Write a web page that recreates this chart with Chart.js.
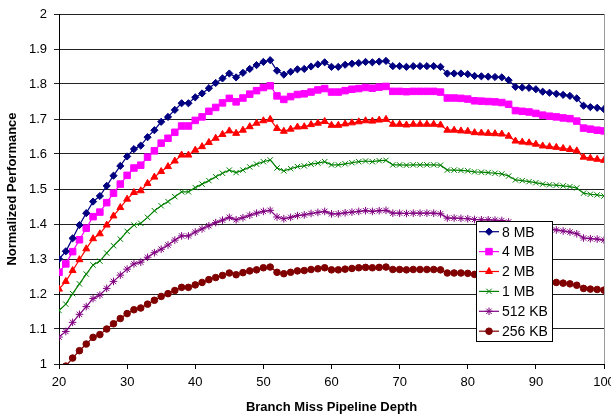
<!DOCTYPE html>
<html>
<head>
<meta charset="utf-8">
<script src="https://cdn.jsdelivr.net/npm/chart.js@4"></script>
<style>
  body { margin: 0; background: #fff; }
  #wrap { width: 611px; height: 416px; }
</style>
</head>
<body>
<div id="wrap"><canvas id="chart" width="611" height="416"></canvas></div>
<script>
// pipeline depth (x axis)
const depth = [
  20, 21, 22, 23, 24, 25, 26, 27, 28, 29,
  30, 31, 32, 33, 34, 35, 36, 37, 38, 39,
  40, 41, 42, 43, 44, 45, 46, 47, 48, 49,
  50, 51, 52, 53, 54, 55, 56, 57, 58, 59,
  60, 61, 62, 63, 64, 65, 66, 67, 68, 69,
  70, 71, 72, 73, 74, 75, 76, 77, 78, 79,
  80, 81, 82, 83, 84, 85, 86, 87, 88, 89,
  90, 91, 92, 93, 94, 95, 96, 97, 98, 99,
  100
];

const perf8MB = [
  1.300, 1.322, 1.359, 1.397, 1.431, 1.464, 1.480, 1.509, 1.538, 1.566,
  1.593, 1.614, 1.624, 1.648, 1.668, 1.692, 1.706, 1.726, 1.745, 1.745,
  1.762, 1.773, 1.788, 1.803, 1.816, 1.830, 1.819, 1.832, 1.843, 1.854,
  1.863, 1.868, 1.838, 1.827, 1.835, 1.842, 1.843, 1.850, 1.856, 1.862,
  1.849, 1.849, 1.855, 1.858, 1.860, 1.863, 1.862, 1.864, 1.866, 1.851,
  1.851, 1.849, 1.851, 1.851, 1.851, 1.851, 1.849, 1.830, 1.830, 1.830,
  1.828, 1.823, 1.822, 1.821, 1.820, 1.819, 1.811, 1.792, 1.790, 1.789,
  1.785, 1.778, 1.775, 1.772, 1.769, 1.766, 1.759, 1.738, 1.734, 1.732,
  1.728
];

const perf4MB = [
  1.262, 1.286, 1.321, 1.355, 1.388, 1.421, 1.434, 1.461, 1.488, 1.514,
  1.539, 1.560, 1.568, 1.591, 1.609, 1.631, 1.645, 1.662, 1.680, 1.680,
  1.696, 1.706, 1.722, 1.733, 1.746, 1.759, 1.749, 1.760, 1.771, 1.781,
  1.790, 1.795, 1.766, 1.756, 1.764, 1.770, 1.772, 1.777, 1.783, 1.787,
  1.777, 1.777, 1.781, 1.785, 1.787, 1.790, 1.788, 1.791, 1.793, 1.779,
  1.779, 1.778, 1.779, 1.779, 1.779, 1.779, 1.777, 1.760, 1.760, 1.759,
  1.757, 1.752, 1.751, 1.750, 1.749, 1.747, 1.742, 1.724, 1.722, 1.720,
  1.716, 1.711, 1.708, 1.706, 1.703, 1.701, 1.694, 1.674, 1.671, 1.668,
  1.666
];

const perf2MB = [
  1.214, 1.236, 1.267, 1.298, 1.329, 1.358, 1.372, 1.397, 1.423, 1.447,
  1.471, 1.490, 1.495, 1.516, 1.534, 1.550, 1.564, 1.580, 1.597, 1.597,
  1.611, 1.621, 1.633, 1.645, 1.656, 1.666, 1.659, 1.668, 1.678, 1.688,
  1.695, 1.699, 1.673, 1.665, 1.671, 1.677, 1.678, 1.684, 1.688, 1.693,
  1.682, 1.682, 1.686, 1.689, 1.692, 1.695, 1.694, 1.697, 1.699, 1.685,
  1.685, 1.683, 1.685, 1.685, 1.685, 1.685, 1.683, 1.668, 1.668, 1.666,
  1.665, 1.661, 1.660, 1.659, 1.658, 1.657, 1.651, 1.637, 1.634, 1.632,
  1.628, 1.623, 1.621, 1.619, 1.616, 1.613, 1.609, 1.591, 1.588, 1.585,
  1.582
];

const perf1MB = [
  1.153, 1.171, 1.201, 1.229, 1.257, 1.283, 1.294, 1.317, 1.338, 1.357,
  1.379, 1.397, 1.402, 1.419, 1.438, 1.452, 1.464, 1.478, 1.492, 1.492,
  1.504, 1.514, 1.524, 1.535, 1.545, 1.554, 1.547, 1.554, 1.563, 1.571,
  1.578, 1.583, 1.560, 1.552, 1.558, 1.564, 1.566, 1.571, 1.574, 1.578,
  1.569, 1.569, 1.572, 1.575, 1.578, 1.580, 1.578, 1.581, 1.582, 1.569,
  1.569, 1.568, 1.569, 1.569, 1.569, 1.569, 1.568, 1.554, 1.554, 1.553,
  1.552, 1.549, 1.548, 1.547, 1.545, 1.543, 1.537, 1.526, 1.524, 1.521,
  1.518, 1.514, 1.512, 1.511, 1.509, 1.507, 1.503, 1.488, 1.485, 1.483,
  1.480
];

const perf512KB = [
  1.077, 1.093, 1.119, 1.142, 1.164, 1.187, 1.197, 1.216, 1.236, 1.254,
  1.271, 1.286, 1.291, 1.305, 1.318, 1.328, 1.340, 1.354, 1.366, 1.366,
  1.377, 1.386, 1.395, 1.404, 1.411, 1.419, 1.412, 1.418, 1.425, 1.431,
  1.436, 1.439, 1.420, 1.415, 1.419, 1.424, 1.426, 1.430, 1.433, 1.436,
  1.429, 1.429, 1.432, 1.434, 1.436, 1.438, 1.436, 1.438, 1.439, 1.431,
  1.431, 1.430, 1.431, 1.431, 1.431, 1.431, 1.429, 1.417, 1.417, 1.416,
  1.415, 1.413, 1.412, 1.412, 1.411, 1.410, 1.406, 1.397, 1.395, 1.394,
  1.391, 1.388, 1.386, 1.383, 1.380, 1.377, 1.372, 1.360, 1.358, 1.357,
  1.354
];

const perf256KB = [
  0.972, 0.994, 1.017, 1.038, 1.057, 1.076, 1.084, 1.100, 1.115, 1.130,
  1.144, 1.155, 1.160, 1.171, 1.182, 1.193, 1.201, 1.210, 1.219, 1.219,
  1.226, 1.233, 1.241, 1.247, 1.253, 1.260, 1.255, 1.261, 1.266, 1.269,
  1.275, 1.277, 1.262, 1.258, 1.262, 1.266, 1.267, 1.270, 1.272, 1.275,
  1.269, 1.269, 1.271, 1.273, 1.275, 1.276, 1.275, 1.276, 1.277, 1.270,
  1.270, 1.269, 1.270, 1.270, 1.270, 1.270, 1.269, 1.260, 1.260, 1.260,
  1.259, 1.256, 1.255, 1.254, 1.253, 1.252, 1.249, 1.241, 1.240, 1.239,
  1.237, 1.235, 1.234, 1.233, 1.231, 1.229, 1.225, 1.216, 1.214, 1.213,
  1.211
];

const seriesNames = ['8 MB', '4 MB', '2 MB', '1 MB', '512 KB', '256 KB'];
const seriesValues = [perf8MB, perf4MB, perf2MB, perf1MB, perf512KB, perf256KB];

const xTitle = 'Branch Miss Pipeline Depth';
const yTitle = 'Normalized Performance';

// look of each series: color, marker, marker size
const seriesStyles = [
  { color: '#000080', point: 'rectRot', radius: 3.6, fill: true },
  { color: '#ff00ff', point: 'rect', radius: 4.6, fill: true },
  { color: '#ff0000', point: 'triangle', radius: 4.0, fill: true },
  { color: '#008000', point: 'crossRot', radius: 3.8, fill: false },
  { color: '#800080', point: 'star', radius: 3.8, fill: false },
  { color: '#800000', point: 'circle', radius: 3.3, fill: true },
];

Chart.defaults.font.family = 'Arial, "Liberation Sans", sans-serif';
Chart.defaults.color = '#000';

const datasets = seriesValues.map((vals, i) => {
  const st = seriesStyles[i];
  return {
    label: seriesNames[i],
    data: depth.map((d, j) => ({ x: d, y: vals[j] })),
    borderColor: st.color,
    backgroundColor: st.color,
    borderWidth: 1.2,
    pointStyle: st.point,
    pointRadius: st.radius,
    pointBorderWidth: 1,
    pointBackgroundColor: st.fill ? st.color : 'transparent',
    pointBorderColor: st.color,
    tension: 0,
  };
});

// legend box drawn over the plot
const legendBox = { left: 476, top: 221, width: 76, height: 120, rowGap: 19.9, firstRow: 10.7 };

const legendPlugin = {
  id: 'boxLegend',
  beforeDatasetsDraw(chart) {
    const ctx = chart.ctx;
    const a = chart.chartArea;
    ctx.save();
    ctx.strokeStyle = '#999';
    ctx.lineWidth = 1;
    ctx.beginPath();
    ctx.moveTo(Math.round(a.right) + 0.5, a.top);
    ctx.lineTo(Math.round(a.right) + 0.5, a.bottom);
    ctx.stroke();
    ctx.restore();
  },
  afterDraw(chart) {
    const ctx = chart.ctx;
    const b = legendBox;
    ctx.save();
    ctx.fillStyle = '#fff';
    ctx.fillRect(b.left, b.top, b.width, b.height);
    ctx.strokeStyle = '#000';
    ctx.lineWidth = 1;
    ctx.strokeRect(b.left + 0.5, b.top + 0.5, b.width, b.height);

    ctx.font = '14px Arial, "Liberation Sans", sans-serif';
    ctx.textBaseline = 'middle';
    ctx.textAlign = 'left';
    chart.data.datasets.forEach((ds, i) => {
      const y = b.top + b.firstRow + i * b.rowGap;
      ctx.strokeStyle = ds.borderColor;
      ctx.lineWidth = 1.2;
      ctx.beginPath();
      ctx.moveTo(b.left + 3, y);
      ctx.lineTo(b.left + 23, y);
      ctx.stroke();
      ctx.fillStyle = ds.pointBackgroundColor;
      ctx.lineWidth = 1;
      Chart.helpers.drawPoint(ctx, {
        pointStyle: ds.pointStyle,
        radius: ds.pointRadius,
        rotation: 0,
        borderWidth: 1,
      }, b.left + 13, y);
      ctx.fillStyle = '#000';
      ctx.fillText(ds.label, b.left + 26, y + 1);
    });
    ctx.restore();
  },
};

new Chart(document.getElementById('chart'), {
  type: 'line',
  data: { datasets },
  options: {
    responsive: false,
    animation: false,
    layout: { padding: { top: 14, right: 7, bottom: 0, left: 0 } },
    plugins: {
      legend: { display: false },
      tooltip: { enabled: false },
    },
    scales: {
      x: {
        type: 'linear',
        min: 20,
        max: 100,
        ticks: { stepSize: 10, padding: 6, font: { size: 13 }, color: '#000', maxRotation: 0 },
        grid: { drawOnChartArea: false, drawTicks: true, tickLength: 5, color: '#000' },
        border: { display: true, color: '#000' },
        title: { display: true, text: xTitle, font: { size: 13, weight: 'bold' }, padding: { top: 0, bottom: 1 } },
        afterFit(scale) {
          scale.height = 52;
          scale.paddingLeft = 0;
          scale.paddingRight = 0;
        },
      },
      y: {
        type: 'linear',
        min: 1,
        max: 2,
        ticks: {
          stepSize: 0.1,
          padding: 7,
          font: { size: 13 },
          color: '#000',
          callback: v => String(Number(v.toFixed(1))),
        },
        grid: { drawOnChartArea: true, drawTicks: true, tickLength: 5, color: '#222' },
        border: { display: true, color: '#000' },
        title: { display: true, text: yTitle, font: { size: 13, weight: 'bold' }, padding: { top: 5, bottom: 0 } },
        afterFit(scale) {
          scale.width = 59;
          scale.paddingTop = 0;
          scale.paddingBottom = 0;
        },
      },
    },
  },
  plugins: [legendPlugin],
});
</script>
</body>
</html>
